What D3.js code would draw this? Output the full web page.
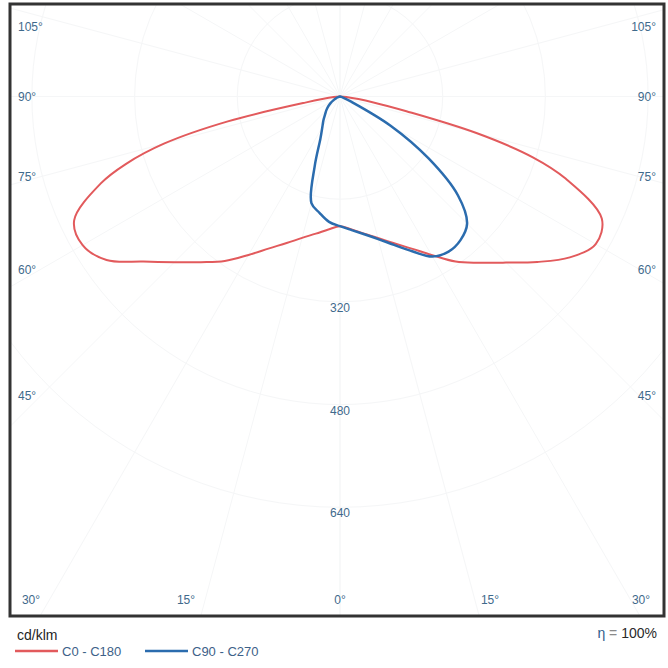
<!DOCTYPE html>
<html>
<head>
<meta charset="utf-8">
<script src="https://cdn.jsdelivr.net/npm/d3@7/dist/d3.min.js"></script>
<style>
  html, body { margin: 0; padding: 0; background: #fff; }
  svg { display: block; }
  text { font-family: "Liberation Sans", Arial, sans-serif; }
</style>
</head>
<body>
<svg id="chart" width="668" height="668"></svg>
<script>
// Luminous intensity distribution, cd/klm, per gamma angle (0° = nadir)
const gammas = [0, 5, 10, 15, 20, 25, 30, 35, 40, 45, 50, 55, 60, 65, 70, 72.5, 75, 77.5, 80, 85, 90];
const c0   = [202, 208, 217, 228, 243, 261, 285, 314, 338, 366, 401, 437, 460, 450, 374, 315, 220, 106, 53, 10, 0];
const c180 = [202, 208, 217, 228, 243, 261, 285, 313, 337, 365, 400, 444, 463, 457, 397, 350, 284, 179, 55, 10, 0];
const c90  = [202, 209, 218, 230, 246, 266, 288, 295, 292, 280, 240, 169, 91, 20, 5, 2, 0, 0, 0, 0, 0];
const c270 = [202, 196, 184, 172, 115, 72, 55, 45, 36, 30, 24, 18, 12, 7, 3, 2, 0, 0, 0, 0, 0];

const ringValues = [160, 320, 480, 640];
const ringLabels = ["320", "480", "640"];
const sideAngles = [105, 90, 75, 60, 45];
const bottomAngles = [30, 15, 0, 15, 30];

const seriesNames = ["C0 - C180", "C90 - C270"];
const seriesColors = ["#e25a5c", "#2b6cae"];

const svg = d3.select("#chart");
const box = { x: 10, y: 4, w: 654, h: 612 };
const cx = 340, cy = 96.5;

const r = d3.scaleLinear().domain([0, 160]).range([0, 102.7]);

// frame clip
svg.append("defs").append("clipPath").attr("id", "frame")
  .append("rect").attr("x", box.x).attr("y", box.y).attr("width", box.w).attr("height", box.h);

const grid = svg.append("g").attr("clip-path", "url(#frame)")
  .attr("fill", "none").attr("stroke", "#f5f6f7").attr("stroke-width", 1);

// concentric intensity rings
grid.selectAll("circle").data(ringValues).join("circle")
  .attr("cx", cx).attr("cy", cy).attr("r", d => r(d));

// radial angle lines every 15°
const rayAngles = d3.range(0, 181, 15);
grid.selectAll("line").data(rayAngles.flatMap(a => [a, -a])).join("line")
  .attr("x1", cx).attr("y1", cy)
  .attr("x2", a => cx + 1000 * Math.sin(a * Math.PI / 180))
  .attr("y2", a => cy + 1000 * Math.cos(a * Math.PI / 180));

// radial axis labels along the nadir
const lblColor = "#3f6a8c";
svg.append("g").selectAll("text").data(ringLabels).join("text")
  .attr("x", cx).attr("y", d => cy + r(+d) + 10)
  .attr("text-anchor", "middle").attr("font-size", 12).attr("fill", lblColor)
  .text(d => d);

// side angle labels
const sideY = { 105: 27, 90: 97, 75: 177, 60: 270, 45: 396 };
const sideG = svg.append("g").attr("font-size", 12).attr("fill", lblColor);
sideG.selectAll("text.l").data(sideAngles).join("text").attr("class", "l")
  .attr("x", 18).attr("y", a => sideY[a] + 4).text(a => a + "°");
sideG.selectAll("text.r").data(sideAngles).join("text").attr("class", "r")
  .attr("x", 656).attr("y", a => sideY[a] + 4).attr("text-anchor", "end").text(a => a + "°");

// bottom angle labels
const bottomX = [31, 186, 340, 490, 641];
svg.append("g").attr("font-size", 12).attr("fill", lblColor)
  .selectAll("text").data(bottomAngles).join("text")
  .attr("x", (d, i) => bottomX[i]).attr("y", 604)
  .attr("text-anchor", "middle").text(d => d + "°");

// curves: right half uses the first plane, left half the opposite plane
const radial = d3.lineRadial()
  .angle(d => d[0])
  .radius(d => r(d[1]))
  .curve(d3.curveCatmullRomClosed.alpha(0.5));

function planePoints(right, left) {
  const pts = [];
  gammas.forEach((g, i) => pts.push([Math.PI - g * Math.PI / 180, right[i]]));
  for (let i = gammas.length - 2; i >= 1; i--) {
    pts.push([Math.PI + gammas[i] * Math.PI / 180, left[i]]);
  }
  return pts;
}

const curves = svg.append("g").attr("transform", `translate(${cx},${cy})`).attr("fill", "none");
curves.append("path").attr("d", radial(planePoints(c0, c180)))
  .attr("stroke", seriesColors[0]).attr("stroke-width", 2);
curves.append("path").attr("d", radial(planePoints(c90, c270)))
  .attr("stroke", seriesColors[1]).attr("stroke-width", 2.5);

// frame
svg.append("rect").attr("x", box.x).attr("y", box.y).attr("width", box.w).attr("height", box.h)
  .attr("fill", "none").attr("stroke", "#333").attr("stroke-width", 3);

// unit + legend
svg.append("text").attr("x", 17).attr("y", 640).attr("font-size", 14)
  .attr("fill", "#1f1f1f").text("cd/klm");

const legend = svg.append("g");
const legX = [15, 145];
seriesNames.forEach((name, i) => {
  legend.append("line").attr("x1", legX[i]).attr("x2", legX[i] + 43)
    .attr("y1", 651).attr("y2", 651).attr("stroke", seriesColors[i]).attr("stroke-width", 2.5);
  legend.append("text").attr("x", legX[i] + 47).attr("y", 656).attr("font-size", 13)
    .attr("fill", "#3d6188").text(name);
});

const eta = svg.append("text").attr("x", 657).attr("y", 638).attr("text-anchor", "end")
  .attr("font-size", 14).attr("fill", "#2a2a2a");
eta.append("tspan").attr("fill", "#2f5c8a").text("η");
eta.append("tspan").attr("fill", "#8a8a8a").text(" = ");
eta.append("tspan").text("100%");
</script>
</body>
</html>
